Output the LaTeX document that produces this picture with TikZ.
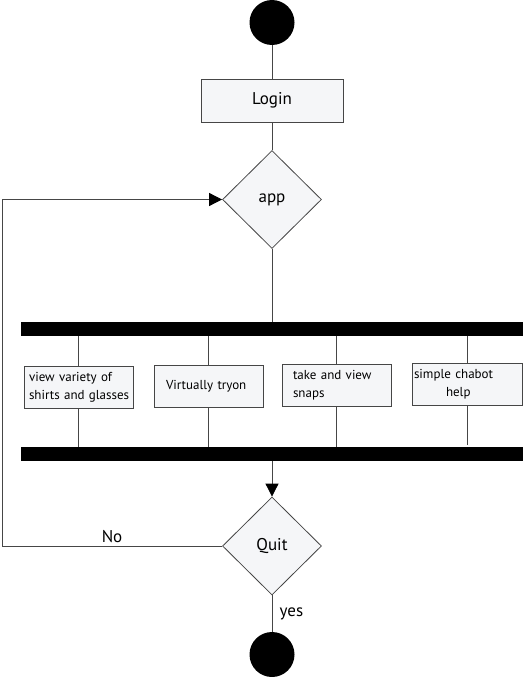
\documentclass[tikz,border=0pt]{standalone}
\usepackage{fontspec}
\setmainfont{PT Sans}
\usetikzlibrary{positioning, arrows.meta, shapes.geometric}
\definecolor{boxfill}{RGB}{245,246,248}
\definecolor{edgegray}{RGB}{70,70,70}

\begin{document}
\begin{tikzpicture}[%
		x=1pt, y=-1pt,
		terminal/.style={
			circle,
			minimum size=45pt,
			inner sep=0pt,
			fill=black
		},
		activity/.style={
			rectangle,
			minimum width=142pt,
			minimum height=43pt,
			draw=edgegray,
			fill=boxfill,
			line width=0.8pt,
			font=\fontsize{17}{20}\selectfont
		},
		choice/.style={
			diamond,
			minimum width=99pt,
			minimum height=98pt,
			inner sep=0pt,
			draw=edgegray,
			fill=boxfill,
			line width=0.8pt,
			font=\fontsize{17}{20}\selectfont
		},
		task/.style={
			rectangle,
			minimum height=42pt,
			align=left,
			draw=edgegray,
			fill=boxfill,
			line width=0.8pt,
			font=\fontsize{13}{18}\selectfont
		},
		forkbar/.style={
			rectangle,
			minimum width=502pt,
			minimum height=14pt,
			inner sep=0pt,
			fill=black
		},
		flowline/.style={
			draw=edgegray,
			line width=0.8pt
		},
		flowarrow/.style={
			flowline,
			-{Triangle[length=13pt,width=13pt,color=black]}
		},
		edgelabel/.style={
			font=\fontsize{17}{20}\selectfont
		}]

		\useasboundingbox (0,0) rectangle (524,677);

		% NODES

		\node (start) [terminal] at (272,22.5) {};
		\node (login) [activity] at (272,100.5) {Login};
		\node (app) [choice] at (272,199.5) {app};

		\node (forkbar) [forkbar] at (272,329) {};

		\node (view) [task, inner xsep=5pt, text width=99pt] at (78.5,387) {view~variety~of\\shirts~and~glasses};
		\node (tryon) [task, inner xsep=12pt, text width=85pt] at (208.5,386) {Virtually tryon};
		\node (snaps) [task, inner xsep=11pt, text width=87pt] at (336.5,385.5) {take and view\\snaps};
		\node (chatbot) [task, inner xsep=2pt, text width=106pt] at (467,384.5) {simple chabot\\\hspace*{32pt}help};

		\node (joinbar) [forkbar] at (272,454) {};

		\node (quit) [choice] at (272,546) {Quit};
		\node (stop) [terminal] at (272,654.5) {};

		\coordinate (loopbottom) at (2,546);

		% LINES

		\draw[flowline] (start) -- (login);
		\draw[flowline] (login) -- (app);
		\draw[flowline] (app.south) -- (app.south |- forkbar.north);

		\draw[flowline] (forkbar.south -| view) -- (view);
		\draw[flowline] (view) -- (joinbar.north -| view);
		\draw[flowline] (forkbar.south -| tryon) -- (tryon);
		\draw[flowline] (tryon) -- (joinbar.north -| tryon);
		\draw[flowline] (forkbar.south -| snaps) -- (snaps);
		\draw[flowline] (snaps) -- (joinbar.north -| snaps);
		\draw[flowline] (forkbar.south -| chatbot) -- (chatbot);
		\draw[flowline, shorten >=2pt] (chatbot) -- (joinbar.north -| chatbot);

		\draw[flowarrow] (joinbar.south -| quit) -- (quit.north);
		\draw[flowarrow] (quit.west) -- node [edgelabel, above] {No} (loopbottom) |- (app.west);
		\draw[flowline] (quit.south) -- node [edgelabel, right, xshift=4pt] {yes} (stop);
\end{tikzpicture}
\end{document}
